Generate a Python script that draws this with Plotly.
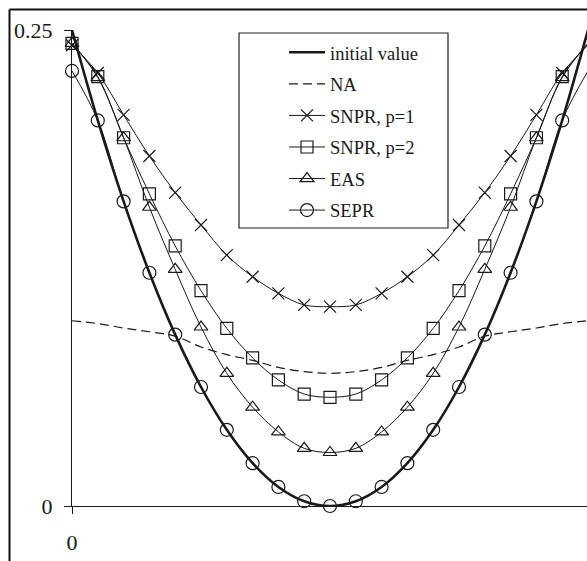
import plotly.graph_objects as go

x = [0.0, 0.05, 0.1, 0.15, 0.2, 0.25, 0.3, 0.35, 0.4, 0.45, 0.5,
     0.55, 0.6, 0.65, 0.7, 0.75, 0.8, 0.85, 0.9, 0.95, 1.0]

initial_value = [0.25, 0.2025, 0.16, 0.1225, 0.09, 0.0625, 0.04, 0.0225, 0.01, 0.0025, 0.0,
                 0.0025, 0.01, 0.0225, 0.04, 0.0625, 0.09, 0.1225, 0.16, 0.2025, 0.25]
na = [0.0973, 0.0958, 0.0935, 0.0915, 0.0892, 0.0835, 0.0795, 0.0765, 0.0728, 0.0706, 0.0697,
      0.0706, 0.0728, 0.0765, 0.0795, 0.0835, 0.0892, 0.0915, 0.0935, 0.0958, 0.0973]
snpr_p1 = [0.242, 0.2274, 0.2054, 0.1838, 0.1646, 0.1476, 0.1318, 0.1204, 0.1117, 0.1056, 0.1047,
           0.1056, 0.1117, 0.1204, 0.1318, 0.1476, 0.1646, 0.1838, 0.2054, 0.2274, 0.242]
snpr_p2 = [0.243, 0.2255, 0.1934, 0.1639, 0.1366, 0.1131, 0.0933, 0.0778, 0.0662, 0.0588, 0.0571,
           0.0588, 0.0662, 0.0778, 0.0933, 0.1131, 0.1366, 0.1639, 0.1934, 0.2255, 0.243]
eas = [0.243, 0.225, 0.1934, 0.1569, 0.1243, 0.094, 0.0697, 0.0519, 0.0389, 0.0303, 0.0281,
       0.0303, 0.0389, 0.0519, 0.0697, 0.094, 0.1243, 0.1569, 0.1934, 0.225, 0.243]
sepr = [0.2285, 0.2025, 0.16, 0.1225, 0.09, 0.0625, 0.04, 0.0225, 0.01, 0.0025, 0.0,
        0.0025, 0.01, 0.0225, 0.04, 0.0625, 0.09, 0.1225, 0.16, 0.2025, 0.2285]

x_ticks = [0, 1]
y_ticks = [0, 0.25]

INK = "#1a1a1a"
FONT = "Liberation Serif"

fig = go.Figure()

fig.add_trace(go.Scatter(x=x, y=initial_value, name="initial value", mode="lines",
                         line=dict(color=INK, width=2.6, shape="spline"),
                         legendgroup="a", cliponaxis=False))
fig.add_trace(go.Scatter(x=x, y=na, name="NA", mode="lines",
                         line=dict(color=INK, width=1.2, dash="9px,5px", shape="spline"),
                         legendgroup="b", cliponaxis=False))

marker_series = [
    ("SNPR, p=1", snpr_p1, "x-thin-open", 12),
    ("SNPR, p=2", snpr_p2, "square-open", 12),
    ("EAS", eas, "triangle-up-open", 12),
    ("SEPR", sepr, "circle-open", 13),
]
for i, (name, ys, sym, sz) in enumerate(marker_series):
    fig.add_trace(go.Scatter(x=x, y=ys, name=name, mode="lines+markers",
                             line=dict(color=INK, width=1, shape="spline"),
                             marker=dict(symbol=sym, size=sz, color=INK,
                                         line=dict(color=INK, width=1.2)),
                             legendgroup="g%d" % i, cliponaxis=False))

W, H = 587, 561
L, R, T, B = 72, 0, 30, 55
pw = W - L - R
ph = H - T - B

def px_x(p):
    return (p - L) / pw

def px_y(p):
    return (H - B - p) / ph

# outer frame (left and top edges visible)
fig.add_shape(type="line", xref="paper", yref="paper",
              x0=px_x(9.5), x1=px_x(9.5), y0=px_y(575), y1=px_y(9.5),
              line=dict(color="#111", width=2))
fig.add_shape(type="line", xref="paper", yref="paper",
              x0=px_x(9.5), x1=px_x(600), y0=px_y(9.5), y1=px_y(9.5),
              line=dict(color="#111", width=2))
# legend box
fig.add_shape(type="rect", xref="paper", yref="paper",
              x0=px_x(239), x1=px_x(448), y0=px_y(228), y1=px_y(33),
              line=dict(color="#222", width=1.2))

fig.update_layout(
    width=W, height=H, autosize=False,
    margin=dict(l=L, r=R, t=T, b=B),
    paper_bgcolor="white", plot_bgcolor="white",
    font=dict(family=FONT, color=INK),
    showlegend=True,
    legend=dict(x=px_x(284), y=px_y(33.8), xanchor="left", yanchor="top",
                bgcolor="rgba(0,0,0,0)", borderwidth=0,
                font=dict(family=FONT, size=18.5, color=INK),
                itemwidth=36, tracegroupgap=4.5, traceorder="grouped"),
    xaxis=dict(range=[0, 515 / 516], tickvals=x_ticks, ticktext=["0", "1"],
               showgrid=False, zeroline=False, showline=True, linecolor=INK, linewidth=1.2,
               ticks="outside", ticklen=7, tickwidth=1.2, tickcolor=INK,
               ticklabelstandoff=9,
               tickfont=dict(family=FONT, size=22, color=INK)),
    yaxis=dict(range=[0, 0.25], tickvals=y_ticks, ticktext=["0", "0.25"],
               showgrid=False, zeroline=False, showline=True, linecolor=INK, linewidth=1.2,
               ticks="outside", ticklen=7, tickwidth=1.2, tickcolor=INK,
               ticklabelstandoff=7,
               tickfont=dict(family=FONT, size=22, color=INK)),
)

fig.write_html("out.html")
